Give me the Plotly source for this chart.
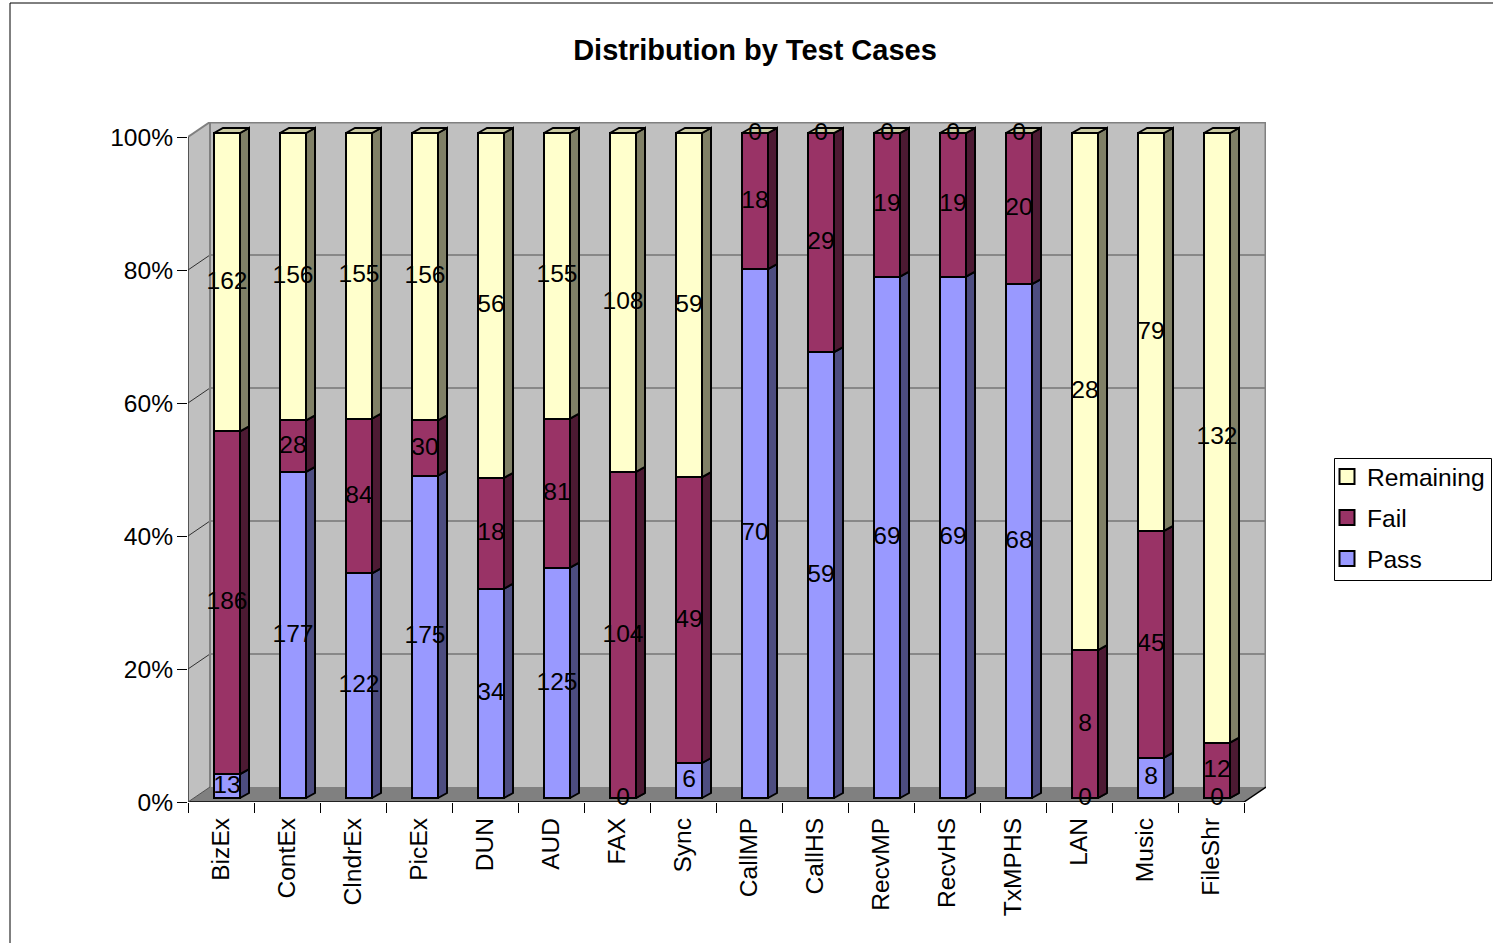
import plotly.graph_objects as go

categories = ["BizEx","ContEx","ClndrEx","PicEx","DUN","AUD","FAX","Sync","CallMP","CallHS","RecvMP","RecvHS","TxMPHS","LAN","Music","FileShr"]
pass_vals = [13,177,122,175,34,125,0,6,70,59,69,69,68,0,8,0]
fail_vals = [186,28,84,30,18,81,104,49,18,29,19,19,20,8,45,12]
remaining_vals = [162,156,155,156,56,155,108,59,0,0,0,0,0,28,79,132]
y_ticks = [0,20,40,60,80,100]
title_text = "Distribution by Test Cases"

W, H = 1493, 943
L, R, T, B = 188, 1266, 122, 802
CAT, PCT = 66.0, 6.65
WDX, WDY = 22/CAT, 15/PCT       # wall depth in data units
BDX, BDY = 9/CAT, 5/PCT         # bar depth in data units
LIFT = 4/PCT                    # bars stand on the floor
LABEL_DROP = 0.5/PCT            # optical centring of value labels
BAR_W, BAR_OFF = 26/CAT, -7/CAT
XMIN, XMAX = -0.5, 15.5
FONT = "Liberation Sans, Arial, sans-serif"
FS = 24.6

series = [
    ("Pass", pass_vals, "#9999FF", "#4D4D80"),
    ("Fail", fail_vals, "#993366", "#4D1A33"),
    ("Remaining", remaining_vals, "#FFFFCC", "#808066"),
]
totals = [a+b+c for a,b,c in zip(pass_vals, fail_vals, remaining_vals)]

def poly_shape(xs, ys, fill, line=None, width=0):
    path = "M" + " L".join(f"{x},{y}" for x, y in zip(xs, ys)) + " Z"
    return dict(type="path", path=path, xref="x", yref="y", layer="below", fillcolor=fill,
                line=dict(color=line or fill, width=width))

def seg(x0, y0, x1, y1, color, width=1, layer="below"):
    return dict(type="line", x0=x0, y0=y0, x1=x1, y1=y1, xref="x", yref="y", layer=layer,
                line=dict(color=color, width=width))

shapes = [
    poly_shape([XMIN+WDX, XMAX+WDX, XMAX+WDX, XMIN+WDX], [WDY, WDY, 100+WDY, 100+WDY], "#C0C0C0"),
    poly_shape([XMIN, XMIN+WDX, XMIN+WDX, XMIN], [0, WDY, 100+WDY, 100], "#C0C0C0"),
    poly_shape([XMIN, XMAX, XMAX+WDX, XMIN+WDX], [0, 0, WDY, WDY], "#808080"),
]
for t in y_ticks[1:-1]:
    shapes.append(seg(XMIN+WDX, t+WDY, XMAX+WDX, t+WDY, "#505050"))
    shapes.append(seg(XMIN, t, XMIN+WDX, t+WDY, "#303030"))
shapes += [
    seg(XMIN, 100, XMIN+WDX, 100+WDY, "#808080", 2),
    seg(XMIN+WDX, WDY, XMIN+WDX, 100+WDY, "#808080", 2),
    seg(XMIN+WDX, 100+WDY, XMAX+WDX, 100+WDY, "#808080", 3),
    seg(XMAX+WDX, WDY, XMAX+WDX, 100+WDY, "#808080", 3),
    seg(XMIN, 0, XMIN, 100, "#303030", 1.5),
    seg(XMIN, 0, XMAX, 0, "#000000", 1.5),
    seg(XMAX, 0, XMAX+WDX, WDY, "#000000", 1.5),
    seg(XMIN, 0, XMIN+WDX, WDY, "#505050", 1),
]
# outer chart frame and legend box
fx = lambda p: (p-L)/(R-L)
fy = lambda p: (B-p)/(B-T)
shapes += [
    dict(type="line", xref="paper", yref="paper", x0=fx(10), x1=fx(10), y0=fy(3), y1=fy(H), line=dict(color="#000", width=1)),
    dict(type="line", xref="paper", yref="paper", x0=fx(10), x1=fx(W), y0=fy(3), y1=fy(3), line=dict(color="#000", width=1)),
    dict(type="rect", xref="paper", yref="paper", x0=fx(1334.5), x1=fx(1491.5), y0=fy(458.5), y1=fy(580.5),
         fillcolor="#fff", layer="below", line=dict(color="#000", width=1)),
]

fig = go.Figure()
xs = list(range(len(categories)))
cum = [0.0]*len(categories)
sides, labels_x, labels_y, labels_t = [], [], [], []
for name, vals, color, side in series:
    pct = [v/t*100 for v, t in zip(vals, totals)]
    base = [c+LIFT for c in cum]
    fig.add_trace(go.Bar(x=xs, y=pct, base=base, width=BAR_W, offset=BAR_OFF, name=name,
                         marker=dict(color=color, line=dict(color="#000", width=2)),
                         showlegend=False, hoverinfo="skip"))
    sx, sy = [], []
    for i, (p, b) in enumerate(zip(pct, base)):
        x1 = i + BAR_OFF + BAR_W
        sx += [x1, x1+BDX, x1+BDX, x1, x1, None]
        sy += [b, b+BDY, b+p+BDY, b+p, b, None]
        labels_x.append(i + BAR_OFF + BAR_W/2)
        labels_y.append(b + p/2 - LABEL_DROP)
        labels_t.append(str(vals[i]))
    sides.append((sx, sy, side))
    cum = [c+p for c, p in zip(cum, pct)]

for sx, sy, side in sides:
    fig.add_trace(go.Scatter(x=sx, y=sy, mode="lines", fill="toself", fillcolor=side,
                             line=dict(color="#000", width=2), showlegend=False, hoverinfo="skip"))
tx, ty = [], []
for i, c in enumerate(cum):
    x0 = i + BAR_OFF
    x1 = x0 + BAR_W
    top = c + LIFT
    tx += [x0, x1, x1+BDX, x0+BDX, x0, None]
    ty += [top, top, top+BDY, top+BDY, top, None]
fig.add_trace(go.Scatter(x=tx, y=ty, mode="lines", fill="toself", fillcolor="#CCCCA3",
                         line=dict(color="#000", width=2), showlegend=False, hoverinfo="skip"))
fig.add_trace(go.Scatter(x=labels_x, y=labels_y, text=labels_t, mode="text", textposition="middle center",
                         textfont=dict(family=FONT, size=FS, color="#000"), showlegend=False, hoverinfo="skip",
                         cliponaxis=False))
# legend entries
for i, (name, vals, color, side) in enumerate(reversed(series)):
    fig.add_trace(go.Scatter(x=[None], y=[None], mode="markers", name=name, legendgroup=name,
                             marker=dict(symbol="square", size=15, color=color, line=dict(color="#000", width=2))))

fig.update_layout(
    width=W, height=H, autosize=False,
    margin=dict(l=L, r=W-R, t=T, b=H-B, pad=0, autoexpand=False),
    paper_bgcolor="#fff", plot_bgcolor="rgba(0,0,0,0)",
    barmode="overlay", bargap=0,
    showlegend=True,
    font=dict(family=FONT, size=FS, color="#000"),
    title=dict(text=f"<b>{title_text}</b>", x=755/W, xref="container", xanchor="center",
               y=1-50/H, yref="container", yanchor="middle", font=dict(family=FONT, size=29, color="#000"),
               automargin=False),
    xaxis=dict(range=[XMIN, XMAX+WDX], tickmode="array", tickvals=xs, ticktext=categories, tickangle=-90,
               ticks="", showgrid=False, zeroline=False, showline=False, ticklabelstandoff=10, automargin=False,
               minor=dict(ticks="outside", tickmode="linear", tick0=-0.5, dtick=1, ticklen=10, tickcolor="#000", tickwidth=1, showgrid=False),
               tickfont=dict(family=FONT, size=FS, color="#000")),
    yaxis=dict(range=[0, 100+WDY], tickmode="array", tickvals=y_ticks, ticktext=[f"{t}%" for t in y_ticks],
               ticks="outside", ticklen=10, tickcolor="#000", tickwidth=1, showgrid=False, zeroline=False, showline=False,
               ticklabelstandoff=-1, automargin=False, tickfont=dict(family=FONT, size=FS, color="#000")),
    legend=dict(x=fx(1332), y=fy(454), xanchor="left", yanchor="top", bgcolor="rgba(0,0,0,0)", borderwidth=0,
                tracegroupgap=6, traceorder="grouped", itemsizing="trace", indentation=-5,
                font=dict(family=FONT, size=24.6, color="#000")),
    shapes=shapes,
)
fig.write_html("out.html", config={"displayModeBar": False},
               post_script="document.body.style.margin='0';document.body.style.overflow='hidden';")
